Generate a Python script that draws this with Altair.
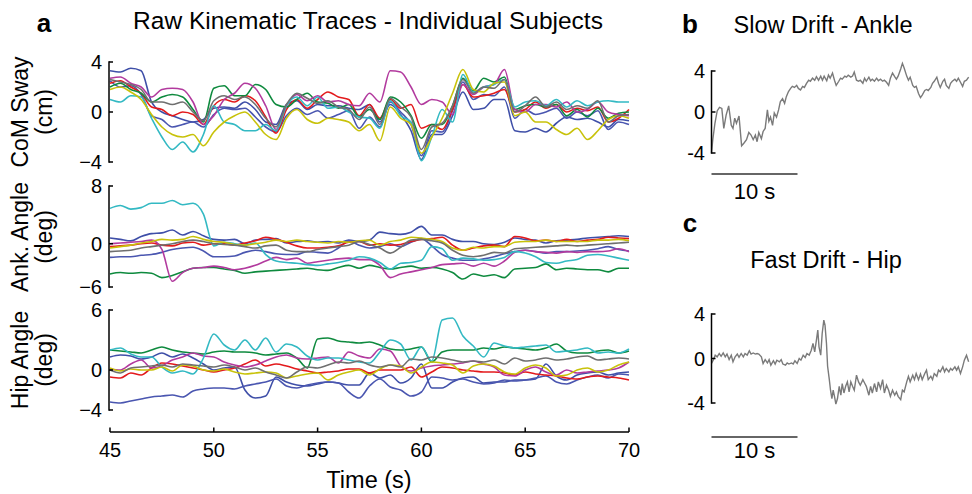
import altair as alt
import pandas as pd

FONT = "Liberation Sans"

# ---------------- data: panel a (time grid, seconds) ----------------
T = [45.0, 45.5, 46.0, 46.5, 47.0, 47.5, 48.0, 48.5, 49.0, 49.5,
     50.0, 50.5, 51.0, 51.5, 52.0, 52.5, 53.0, 53.5, 54.0, 54.5,
     55.0, 55.5, 56.0, 56.5, 57.0, 57.5, 58.0, 58.5, 59.0, 59.5,
     60.0, 60.5, 61.0, 61.5, 62.0, 62.5, 63.0, 63.5, 64.0, 64.5,
     65.0, 65.5, 66.0, 66.5, 67.0, 67.5, 68.0, 68.5, 69.0, 69.5,
     70.0]

SUBJECTS = ["blue1", "blue2", "red", "green", "magenta", "cyan", "yellow", "gray"]
COLORS = ["#3F4FA8", "#4A56B0", "#E31A1C", "#0E8A3E", "#B23A9E", "#33B9C3", "#C8C20A", "#6F6F6F"]

# CoM sway (cm)
com_blue1 = [3.3, 3.2, 3.5, 3.3, 0.8, 0.0, -0.3, -0.6, -0.8, -0.6,
             0.3, 0.4, 0.3, 0.8, 0.2, -0.8, -1.0, 0.6, 0.9, 0.2,
             0.6, 0.5, 0.5, 0.3, 0.2, 0.6, -0.8, 0.6, -0.2, -1.5,
             -3.8, -1.8, -1.8, -0.3, 1.6, 0.2, 0.3, 1.0, 1.0, -1.5,
             -1.6, -1.3, -1.6, -0.9, -0.4, -0.6, -0.5, -0.8, -1.2, -0.6,
             -0.7]
com_blue2 = [2.5, 2.0, 2.1, 1.4, -0.3, -0.6, -1.2, -1.0, -0.8, -1.2,
             -0.2, 0.3, 0.2, 0.3, -0.4, -1.2, -1.6, -0.3, 0.3, -0.2,
             0.1, -0.5, -0.2, 0.1, -1.3, -0.4, -1.2, 0.8, 0.0, -1.0,
             -3.5, -1.5, -1.6, 0.1, 2.4, 1.0, 1.4, 1.3, 2.0, -0.5,
             0.2, -0.2, 0.0, 0.3, -0.5, 0.0, -0.3, 0.1, -1.4, -0.8,
             -1.0]
com_red = [2.3, 2.5, 2.0, 1.5, 0.4, 0.2, -0.3, 0.0, -0.2, -1.0,
           0.5, 1.0, 0.8, 1.3, 0.9, -0.4, -1.7, 0.2, 1.0, 0.3,
           1.0, 1.6, 1.2, 1.0, -0.3, 0.6, -0.5, 1.0, 0.3, 0.6,
           -1.3, -1.0, -1.4, 0.2, 2.2, 1.2, 1.3, 1.5, 1.8, 0.0,
           0.2, 0.8, 0.3, 0.6, 0.0, 0.3, 0.1, 0.4, -0.8, -0.5,
           0.2]
com_green = [2.0, 2.3, 1.8, 1.5, 0.8, 1.2, 1.4, 1.2, 0.2, -0.8,
             1.9, 2.1, 1.3, 1.3, 2.2, 1.8, 0.6, 0.4, 1.0, 1.5,
             0.8, 0.7, 0.3, 0.6, -0.4, 0.2, -0.6, 1.2, 0.8, -0.3,
             -2.1, -1.0, -1.0, 0.5, 2.7, 1.7, 2.7, 2.4, 2.8, 0.2,
             0.5, 0.6, 0.4, 0.6, -0.3, 0.2, -0.4, 0.3, -0.5, -0.1,
             0.0]
com_magenta = [2.7, 2.8, 2.3, 2.0, 1.2, 1.8, 1.9, 1.8, 0.8, -1.0,
               -0.3, 1.0, 1.5, 2.3, 1.9, 0.5, -1.4, 0.5, 1.4, 0.9,
               1.3, 0.8, 0.9, 0.6, 0.5, 1.5, 0.8, 3.3, 3.2, 2.0,
               0.6, 1.0, 0.8, -0.2, 2.2, 1.4, 2.0, 2.2, 3.4, 0.2,
               0.0, 0.6, 0.6, 0.4, 0.8, 0.0, 0.2, 0.8, 0.0, -0.2,
               -0.3]
com_cyan = [1.0, 0.8, 1.3, 1.2, -0.5, -2.0, -3.0, -2.4, -3.2, -1.8,
            0.5, -0.8, -1.0, -1.5, -1.5, -1.0, -1.5, 0.5, 1.2, 0.5,
            1.2, 0.3, 0.4, 0.0, -0.4, -0.5, -1.3, 0.9, -0.3, -0.8,
            -3.9, -2.0, 0.2, -0.8, 3.0, 1.6, 2.0, 2.2, 2.6, 0.4,
            0.8, 0.9, 0.5, 1.0, 0.4, 0.9, 0.5, 0.8, 0.9, 0.8,
            0.8]
com_yellow = [1.8, 2.0, 1.6, 1.0, -0.2, -1.2, -1.8, -2.0, -1.8, -2.7,
              -1.6, -0.8, -0.3, 0.0, -0.8, -1.8, -2.2, -0.5, 0.2, -0.6,
              -0.9, -0.5, -0.6, -0.8, -1.5, -1.0, -2.3, 0.4, -0.5, -1.0,
              -3.3, -2.0, -0.5, 1.5, 3.4, 1.8, 1.6, 2.3, 2.4, -0.3,
              0.0, -0.8, -0.8, -1.4, -1.8, -1.3, -2.2, -1.5, -0.6, -0.3,
              -0.5]
com_gray = [2.6, 2.4, 2.2, 1.8, 0.8, 0.8, 0.6, 0.8, 0.0, -0.7,
            0.9, 1.3, 1.0, 1.2, 0.6, -0.5, -1.2, 0.6, 1.5, 1.1,
            0.7, 0.9, 0.4, 0.2, -0.6, 0.4, -1.0, 1.1, 0.4, -0.4,
            -3.0, -1.2, -0.9, 0.5, 2.6, 1.5, 2.0, 1.9, 2.6, 0.0,
            0.5, 1.2, 0.4, 0.8, 0.2, 0.5, 0.3, 0.9, -0.8, -0.3,
            -0.2]

# Ankle angle (deg)
ank_blue1 = [0.8, 0.6, 0.4, 1.0, 1.4, 1.5, 1.9, 1.2, 1.7, 1.1,
             0.6, 0.5, 0.6, 0.0, 0.5, 0.6, 0.7, 0.1, 0.3, 0.4,
             0.2, 0.3, 0.1, 0.5, 0.3, 0.5, 1.6, 1.4, 1.3, 1.6,
             2.4, 1.2, 1.2, 0.6, 0.3, 0.3, 0.0, -0.1, 0.2, 0.8,
             0.6, 0.5, 0.1, 0.4, 0.5, 0.6, 0.8, 0.9, 1.0, 1.1,
             1.0]
ank_blue2 = [-1.9, -1.8, -1.8, -1.6, -1.5, -1.2, -0.8, -0.6, -0.5, -1.0,
             -1.8, -1.8, -1.7, -1.2, -0.9, -1.1, -1.4, -1.5, -1.5, -1.1,
             -1.2, -1.3, -0.6, 0.4, -0.2, -0.6, -0.4, 0.0, -0.4, 0.2,
             0.7, -0.3, -1.5, -2.0, -2.3, -2.3, -2.1, -1.8, -1.4, -1.1,
             -0.9, -1.1, -1.3, -1.1, -1.1, -1.0, -0.9, -0.7, -0.4, -0.8,
             -1.0]
ank_red = [-0.4, -0.3, -0.2, 0.0, 0.1, -0.2, -0.3, 0.1, 0.2, -0.2,
           0.0, 0.0, -0.2, 0.1, 0.4, 0.9, 0.6, 0.2, -0.3, -0.6,
           -0.6, -0.5, -0.3, 0.2, 0.3, -0.2, 0.0, -0.2, -0.1, 0.3,
           0.6, 0.7, 0.9, -0.2, -0.9, -0.6, -0.3, -0.2, -0.4, 1.0,
           0.8, 0.4, 0.5, 0.3, 0.6, 0.3, 0.5, 0.6, 0.9, 0.8,
           0.7]
ank_green = [-4.2, -4.0, -4.1, -4.0, -4.1, -4.7, -4.4, -3.9, -3.4, -3.3,
             -3.3, -3.5, -3.7, -4.1, -3.9, -3.8, -3.7, -3.6, -3.5, -3.4,
             -3.6, -3.7, -3.3, -3.0, -3.4, -3.0, -3.3, -3.5, -3.3, -3.1,
             -3.4, -3.3, -3.5, -4.0, -4.9, -4.2, -4.5, -4.3, -4.7, -3.5,
             -3.4, -3.3, -2.8, -3.6, -3.4, -3.5, -3.6, -3.6, -3.9, -3.4,
             -3.4]
ank_magenta = [0.0, 0.1, 0.2, 0.3, 0.5, -0.8, -5.2, -4.0, -3.4, -3.3,
               -3.1, -3.3, -3.6, -3.4, -3.0, -2.4, -1.9, -2.2, -2.0, -2.7,
               -2.5, -2.3, -2.1, -2.0, -2.2, -2.2, -3.0, -4.7, -4.2, -3.9,
               -3.6, -3.3, -2.9, -2.8, -2.7, -3.1, -2.7, -3.1, -2.4, -1.2,
               -0.9, -1.1, -1.2, -1.3, -1.1, -1.2, -1.1, -1.1, -1.0, -0.7,
               -1.1]
ank_cyan = [4.9, 5.3, 4.8, 5.0, 5.6, 5.6, 6.0, 5.4, 5.6, 4.1,
            -0.3, 0.2, 0.0, -0.2, 0.1, -1.5, -2.4, -2.6, -2.7, -2.9,
            -3.0, -2.8, -2.6, -2.3, -1.8, -2.0, -2.6, -3.5, -2.7, -2.6,
            -2.3, -0.4, -0.7, -2.3, -2.0, -2.1, -2.3, -2.2, -1.9, -1.1,
            -1.3, -1.8, -2.6, -2.7, -2.4, -2.2, -1.6, -1.5, -1.7, -2.0,
            -2.3]
ank_yellow = [-0.6, -0.4, -0.2, 0.1, 0.3, 0.6, 0.5, 0.6, 1.0, 0.6,
              0.3, 0.2, -0.1, -0.2, 0.0, 0.2, 0.5, 0.3, 0.5, 0.3,
              0.2, 0.1, 0.3, 0.2, 0.4, 0.5, -0.2, 0.3, 0.5, 0.9,
              0.8, 0.6, 0.3, -0.6, -0.9, -0.5, -0.6, -0.4, -0.4, 0.2,
              0.3, 0.3, 0.5, 0.3, 0.3, 0.3, 0.3, 0.5, 0.5, 0.6,
              0.4]
ank_gray = [-1.1, -1.0, -0.9, -0.6, -0.4, -0.2, 0.0, 0.3, 0.5, 0.3,
            0.0, -0.1, -0.2, -0.4, -0.6, -0.3, -0.2, -0.9, -1.1, -1.1,
            -0.8, -0.6, -0.4, -0.2, 0.3, -0.1, -0.6, -1.3, -0.5, 0.5,
            0.6, 0.4, 0.1, -0.9, -1.6, -1.8, -1.6, -1.2, -1.3, -0.7,
            -0.6, -0.5, -0.4, -0.3, -0.2, -0.3, -0.2, -0.1, 0.0, 0.1,
            0.2]

# Hip angle (deg)
hip_blue1 = [1.3, 1.5, 1.4, 1.1, 1.3, 1.7, 1.3, 1.6, 1.2, 0.6,
             0.0, 0.2, 0.3, -2.0, -2.8, -2.6, -0.7, -1.2, -1.5, -1.6,
             -1.4, -1.2, -1.3, -1.5, -1.5, -0.3, -0.8, -0.5, -1.3, -0.8,
             0.6, -1.8, -1.8, -1.2, -0.8, -0.7, -1.3, -1.2, -1.2, -1.0,
             -1.0, -0.9, 0.6, -0.6, -1.0, -0.5, -0.3, -0.2, -0.5, -0.3,
             -0.2]
hip_blue2 = [-3.2, -3.3, -3.1, -2.9, -2.7, -2.6, -2.5, -2.7, -2.1, -1.9,
             -1.8, -1.8, -1.9, -1.6, -1.4, -1.2, -0.9, -1.6, -1.8, -1.5,
             -1.3, -1.2, -1.3, -2.2, -2.8, -1.6, -0.9, -1.7, -2.0, -2.6,
             -2.2, -0.7, -0.8, -1.0, -0.9, -1.2, -1.4, -1.3, -1.0, -1.1,
             -1.0, -0.8, -0.6, -1.2, -1.4, -1.0, -0.7, -0.5, -0.8, -0.4,
             -0.5]
hip_red = [-0.7, -0.8, -0.3, -0.5, 0.2, 0.7, 0.6, 0.4, 0.2, 0.0,
           -0.2, 0.0, 0.2, 0.6, 1.0, 0.4, 0.6, 0.4, 0.1, -0.1,
           -0.3, -0.2, -0.1, 0.1, 0.1, -0.3, 0.0, 0.0, 0.0, 0.3,
           -0.7, -0.2, 0.3, 0.2, 0.0, -0.1, -0.2, -0.2, -0.3, -0.5,
           -0.2, -0.4, -0.5, -0.6, -0.8, -0.9, -0.7, -0.6, -0.7, -0.8,
           -1.0]
hip_green = [2.0, 1.9, 1.8, 1.7, 2.0, 2.3, 2.0, 1.8, 1.7, 1.6,
             1.8, 1.9, 1.8, 1.8, 1.7, 1.5, 1.6, 1.7, 1.2, 0.2,
             3.1, 3.2, 2.9, 2.8, 2.7, 2.8, 2.5, 2.1, 2.0, 2.1,
             2.3, 0.8, 1.8, 2.0, 2.0, 2.0, 2.2, 2.1, 2.3, 2.2,
             2.1, 2.0, 2.2, 2.6, 1.9, 1.7, 1.7, 1.9, 2.0, 1.7,
             1.9]
hip_magenta = [0.1, 0.0, 0.6, 1.0, 0.2, 0.4, 1.0, 1.3, 1.7, 1.4,
               1.3, 0.8, 0.5, 0.3, 0.5, 0.9, 1.3, 1.5, 1.2, 1.1,
               1.2, 1.3, 0.7, 1.8, 1.4, 1.2, 2.1, 1.9, 0.4, -0.1,
               0.2, 0.4, 0.5, 0.6, 0.7, 0.9, 0.6, 0.3, -0.5, -0.6,
               0.0, 0.3, -0.2, -0.5, 0.0, -0.3, -0.2, -0.1, 0.0, 0.2,
               0.8]
hip_cyan = [2.0, 2.2, 1.6, 1.3, 1.3, 0.3, -0.3, -0.1, -0.4, 1.2,
            3.6, 2.5, 2.0, 3.0, 2.0, 3.2, 1.8, 2.6, 2.3, 1.4,
            1.0, 1.2, 1.2, 1.0, 0.8, 0.7, 1.8, 3.0, 2.6, 1.0,
            2.3, 0.9, 5.0, 5.2, 3.4, 2.4, 1.3, 2.7, 2.4, 2.2,
            2.3, 2.4, 2.5, 1.8, 1.9, 2.0, 2.2, 1.7, 1.8, 1.7,
            2.1]
hip_yellow = [0.2, -0.1, 0.1, 0.0, 0.0, 0.3, -0.1, 0.5, 0.4, 0.0,
              -0.1, 0.1, -0.2, -0.4, -0.3, -0.2, -0.3, -0.8, -0.6, -0.4,
              -0.3, -1.0, -0.5, -0.2, 0.0, -0.5, 0.1, 0.5, 0.4, -0.3,
              0.3, 0.8, 0.7, 0.5, -0.3, 0.4, 0.6, 0.4, -0.2, -0.4,
              0.2, 0.5, 0.2, -0.6, -0.5, 0.0, 0.2, -0.2, 0.0, 0.5,
              0.8]
hip_gray = [0.0, -0.3, 0.2, 0.3, 0.4, 0.5, 0.3, 0.6, 0.5, 0.4,
            0.3, 0.5, 0.3, 0.0, 0.2, -0.2, -0.5, -0.8, -0.2, 0.3,
            0.2, 0.5, 0.8, 0.7, 0.9, 0.5, 0.3, 0.5, 0.3, 1.1,
            1.0, 1.3, 1.2, 1.0, 0.8, 0.9, 0.8, 1.0, 0.6, 1.2,
            0.9, 1.0, 1.2, 1.0, 1.1, 1.3, 1.4, 1.0, 1.1, 1.2,
            1.1]

# ---------------- data: panel b (slow drift, ankle) ----------------
TB = [0, 0.15, 0.4, 0.66, 0.93, 1.2, 1.43, 1.7, 2.0, 2.3,
      2.5, 2.7, 2.9, 3.2, 3.5, 3.76, 4.07, 4.34, 4.6, 4.85,
      5.1, 5.3, 5.5, 5.8, 6.0, 6.24, 6.5, 6.67, 6.86, 7.1,
      7.3, 7.56, 7.8, 8.0, 8.26, 8.5, 8.7, 8.95, 9.2, 9.4,
      9.65, 9.9, 10.1, 10.35, 10.6, 10.8, 11.05, 11.3, 11.5, 11.75,
      12.0, 12.2, 12.45, 12.7, 12.9, 13.1, 13.4, 13.6, 13.8, 14.07,
      14.3, 14.5, 14.8, 15.0, 15.2, 15.5, 15.7, 15.9, 16.2, 16.4,
      16.6, 16.86, 17.1, 17.3, 17.6, 17.8, 18.0, 18.3, 18.5, 18.7,
      18.95, 19.2, 19.4, 19.65, 19.9, 20.1, 20.35, 20.6, 20.8, 21.05,
      21.3, 21.5, 21.7, 22.0, 22.2, 22.4, 22.7, 22.9, 23.1, 23.4,
      23.6, 23.8, 24.07, 24.3, 24.5, 24.8, 25.0, 25.2, 25.5, 25.7,
      25.9, 26.2, 26.4, 26.6, 26.9, 27.1, 27.3, 27.6, 27.8, 28.0,
      28.3, 28.5, 28.7, 28.95, 29.2, 29.4, 29.65, 29.9]
VB = [-4.0, -2.7, -1.1, 0.1, 0.45, 0.35, -1.6, -0.3, 0.6, -1.3,
      -1.6, -0.6, -1.1, -0.4, -3.3, -3.05, -2.7, -2.0, -2.25, -2.7,
      -2.25, -2.9, -2.0, -2.6, -1.9, -1.6, 0.2, -0.9, -0.5, -1.3,
      -0.1, -0.5, 0.2, 1.0, 1.3, 0.85, 1.5, 2.0, 2.3, 2.5,
      2.4, 2.6, 2.3, 2.15, 2.5, 2.4, 2.8, 3.1, 3.0, 3.3,
      3.1, 3.45, 3.1, 3.5, 3.1, 3.5, 3.05, 3.6, 3.3, 3.8,
      3.1, 2.6, 3.0, 3.3, 3.2, 3.5, 3.4, 3.6, 3.4, 3.5,
      3.9, 3.1, 3.0, 3.1, 2.8, 3.3, 3.0, 3.4, 3.05, 3.2,
      3.0, 3.3, 3.05, 3.2, 3.0, 3.1, 2.9, 2.6, 3.3, 3.8,
      3.45, 3.2, 3.5, 4.2, 4.75, 4.3, 3.5, 3.1, 3.4, 2.6,
      2.4, 2.5, 1.8, 1.4, 1.65, 2.1, 2.2, 2.1, 2.4, 2.8,
      3.0, 3.4, 2.8, 2.4, 3.0, 3.2, 2.6, 2.3, 2.8, 3.0,
      3.2, 3.0, 3.3, 2.9, 2.5, 3.0, 3.1, 3.4]

# ---------------- data: panel c (fast drift, hip) ----------------
TC = [0, 0.2, 0.43, 0.66, 0.9, 1.12, 1.36, 1.6, 1.8, 2.05,
      2.3, 2.5, 2.75, 3.0, 3.2, 3.45, 3.7, 3.9, 4.15, 4.4,
      4.6, 4.85, 5.1, 5.3, 5.5, 5.8, 6.0, 6.24, 6.5, 6.7,
      6.9, 7.2, 7.4, 7.6, 7.9, 8.1, 8.3, 8.6, 8.8, 9.0,
      9.3, 9.5, 9.7, 9.96, 10.2, 10.4, 10.66, 10.9, 11.1, 11.36,
      11.6, 11.8, 12.0, 12.2, 12.36, 12.5, 12.7, 12.87, 13.06, 13.2,
      13.37, 13.5, 13.7, 13.84, 14.0, 14.15, 14.3, 14.46, 14.65, 14.85,
      15.04, 15.2, 15.4, 15.6, 15.8, 16.0, 16.2, 16.4, 16.6, 16.86,
      17.1, 17.3, 17.6, 17.8, 18.0, 18.3, 18.5, 18.7, 18.95, 19.2,
      19.4, 19.65, 19.9, 20.1, 20.35, 20.6, 20.8, 21.05, 21.3, 21.5,
      21.7, 22.0, 22.2, 22.4, 22.7, 22.9, 23.1, 23.4, 23.6, 23.8,
      24.07, 24.3, 24.5, 24.8, 25.0, 25.2, 25.5, 25.7, 25.9, 26.2,
      26.4, 26.6, 26.9, 27.1, 27.3, 27.6, 27.8, 28.0, 28.3, 28.5,
      28.7, 28.95, 29.2, 29.4, 29.65, 29.9]
VC = [-0.45, -0.15, 0.3, 0.15, 0.45, 0.2, 0.5, 0.15, 0.4, -0.1,
      0.3, -0.3, 0.15, 0.4, 0.1, 0.45, 0.15, 0.45, 0.3, 0.7,
      0.4, 0.5, 0.4, 0.45, 0.4, 0.15, -0.45, -0.1, -0.4, -0.1,
      -0.6, -0.2, -0.5, -0.15, -0.3, -0.1, -0.5, -0.6, -0.4, -0.5,
      -0.4, -0.5, -0.2, -0.45, 0.0, -0.15, 0.3, 0.1, 0.45, 0.3,
      0.75, 1.35, 0.6, 1.65, 2.55, 1.05, 0.3, 2.25, 3.45, 3.0,
      1.35, -0.7, -1.9, -2.85, -3.6, -2.85, -3.4, -4.1, -3.6, -2.5,
      -3.3, -2.25, -3.1, -2.5, -2.1, -3.0, -2.1, -2.5, -2.85, -1.5,
      -2.1, -2.4, -1.9, -2.2, -2.5, -3.3, -2.5, -3.1, -2.25, -3.0,
      -2.1, -2.7, -1.9, -3.1, -2.4, -2.85, -3.4, -2.85, -3.3, -3.0,
      -3.4, -3.7, -2.85, -3.0, -2.1, -1.6, -2.1, -1.5, -1.9, -1.35,
      -1.9, -1.4, -1.9, -1.35, -1.05, -1.9, -1.6, -1.9, -1.35, -1.6,
      -1.05, -1.2, -0.75, -1.2, -0.9, -1.2, -0.9, -1.05, -0.75, -1.05,
      -0.75, -1.35, -0.75, -0.15, 0.3, -0.3]

# axis tick values / labels
A_XTICKS = [45, 50, 55, 60, 65, 70]
COM_TICKS, COM_LABELS = [4, 0, -4], ["4", "0", "\u22124"]
ANK_TICKS, ANK_LABELS = [8, 0, -6], ["8", "0", "\u22126"]
HIP_TICKS, HIP_LABELS = [6, 0, -4], ["6", "0", "\u22124"]
BC_TICKS, BC_LABELS = [4, 0, -4], ["4", "0", "-4"]


def long_df(series):
    rows = []
    for name, vals in series.items():
        assert len(vals) == len(T), name
        for t, v in zip(T, vals):
            rows.append({"subj": name, "t": t, "v": v})
    return pd.DataFrame(rows)


com_df = long_df(dict(zip(SUBJECTS, [com_blue1, com_blue2, com_red, com_green,
                                     com_magenta, com_cyan, com_yellow, com_gray])))
ank_df = long_df(dict(zip(SUBJECTS, [ank_blue1, ank_blue2, ank_red, ank_green,
                                     ank_magenta, ank_cyan, ank_yellow, ank_gray])))
hip_df = long_df(dict(zip(SUBJECTS, [hip_blue1, hip_blue2, hip_red, hip_green,
                                     hip_magenta, hip_cyan, hip_yellow, hip_gray])))
b_df = pd.DataFrame({"t": TB, "v": VB})
c_df = pd.DataFrame({"t": TC, "v": VC})

# ---------------- scales (explicit pixel ranges on one canvas) ----------------
def sc(domain, rng):
    return alt.Scale(domain=domain, range=rng, nice=False, zero=False)

XA = sc([45, 70], [110, 629])
Y_COM = sc([-4, 4], [162, 62])
Y_ANK = sc([-6, 8], [287, 186])
Y_HIP = sc([-4, 6], [410, 310])
XB = sc([0, 30], [711.5, 969.5])
Y_B = sc([-4, 4], [153, 71])
Y_C = sc([-4, 4], [403, 314])

color_enc = alt.Color("subj:N", scale=alt.Scale(domain=SUBJECTS, range=COLORS), legend=None)

layers = []


def traces(df, yscale):
    return alt.Chart(df).mark_line(strokeWidth=1.6, interpolate="monotone").encode(
        x=alt.X("t:Q", scale=XA, axis=None),
        y=alt.Y("v:Q", scale=yscale, axis=None),
        color=color_enc,
        detail="subj:N",
    )


def single_trace(df, xscale, yscale):
    return alt.Chart(df).mark_line(strokeWidth=1.4, color="#7A7A7A").encode(
        x=alt.X("t:Q", scale=xscale, axis=None),
        y=alt.Y("v:Q", scale=yscale, axis=None),
    )


def y_axis(yscale, ticks, labels, x_line, label_x, size):
    lo, hi = min(ticks), max(ticks)
    dom = alt.Chart(pd.DataFrame({"lo": [lo], "hi": [hi]})).mark_rule(
        color="black", strokeWidth=1.5, strokeCap="square").encode(
        x=alt.value(x_line),
        y=alt.Y("lo:Q", scale=yscale, axis=None), y2="hi:Q")
    tk = alt.Chart(pd.DataFrame({"v": ticks})).mark_rule(
        color="black", strokeWidth=1.5).encode(
        y=alt.Y("v:Q", scale=yscale, axis=None),
        x=alt.value(x_line), x2=alt.value(x_line + 4))
    lb = alt.Chart(pd.DataFrame({"v": ticks, "lab": labels})).mark_text(
        align="right", baseline="middle", fontSize=size, font=FONT, color="black", dy=1).encode(
        y=alt.Y("v:Q", scale=yscale, axis=None),
        x=alt.value(label_x), text="lab:N")
    return [dom, tk, lb]


def text(s, x, y, size, bold=False, angle=None, baseline="alphabetic", align="center"):
    kw = dict(fontSize=size, font=FONT, align=align, baseline=baseline, color="black")
    if bold:
        kw["fontWeight"] = "bold"
    if angle is not None:
        kw["angle"] = angle
    return alt.Chart(pd.DataFrame({"s": [s]})).mark_text(**kw).encode(
        text="s:N", x=alt.value(x), y=alt.value(y))


# panel a traces
layers += [traces(com_df, Y_COM), traces(ank_df, Y_ANK), traces(hip_df, Y_HIP)]
# panel b, c traces
layers += [single_trace(b_df, XB, Y_B), single_trace(c_df, XB, Y_C)]

# panel a y axes
layers += y_axis(Y_COM, COM_TICKS, COM_LABELS, 109, 102, 20)
layers += y_axis(Y_ANK, ANK_TICKS, ANK_LABELS, 109, 102, 20)
layers += y_axis(Y_HIP, HIP_TICKS, HIP_LABELS, 109, 102, 20)

# panel a x axis (detached, ticks pointing up)
layers.append(alt.Chart(pd.DataFrame({"lo": [45], "hi": [70]})).mark_rule(
    color="black", strokeWidth=1.5).encode(
    x=alt.X("lo:Q", scale=XA, axis=None), x2="hi:Q", y=alt.value(432)))
layers.append(alt.Chart(pd.DataFrame({"t": A_XTICKS})).mark_rule(
    color="black", strokeWidth=1.5).encode(
    x=alt.X("t:Q", scale=XA, axis=None), y=alt.value(427.5), y2=alt.value(432)))
layers.append(alt.Chart(pd.DataFrame({"t": A_XTICKS, "lab": [str(v) for v in A_XTICKS]})).mark_text(
    fontSize=20, font=FONT, baseline="middle", align="center", color="black").encode(
    x=alt.X("t:Q", scale=XA, axis=None), y=alt.value(451), text="lab:N"))

# panels b, c y axes
layers += y_axis(Y_B, BC_TICKS, BC_LABELS, 711.5, 705, 20)
layers += y_axis(Y_C, BC_TICKS, BC_LABELS, 711.5, 705, 20)

# scale bars (10 s) for b and c
for ybar, ylab in [(174, 192), (437, 451)]:
    layers.append(alt.Chart(pd.DataFrame({"a": [0], "b": [10]})).mark_rule(
        color="#333333", strokeWidth=1.5).encode(
        x=alt.X("a:Q", scale=XB, axis=None), x2="b:Q", y=alt.value(ybar)))
    layers.append(alt.Chart(pd.DataFrame({"m": [5], "s": ["10 s"]})).mark_text(
        fontSize=22, font=FONT, baseline="middle", align="center", color="black").encode(
        x=alt.X("m:Q", scale=XB, axis=None), y=alt.value(ylab), text="s:N"))

# titles and labels
layers += [
    text("a", 44, 32, 26, bold=True),
    text("Raw Kinematic Traces - Individual Subjects", 368, 29, 24.5),
    text("b", 690, 33, 26, bold=True),
    text("Slow Drift - Ankle", 823, 33, 23.5),
    text("c", 690, 232, 26, bold=True),
    text("Fast Drift - Hip", 826, 268, 23.5),
    text("Time (s)", 369, 481, 23.5, baseline="middle"),
    text("CoM Sway", 21, 112, 23, angle=270, baseline="middle"),
    text("(cm)", 45, 112, 23, angle=270, baseline="middle"),
    text("Ank. Angle", 21, 237, 23, angle=270, baseline="middle"),
    text("(deg)", 45, 237, 23, angle=270, baseline="middle"),
    text("Hip Angle", 21, 360, 23, angle=270, baseline="middle"),
    text("(deg)", 45, 360, 23, angle=270, baseline="middle"),
]

chart = alt.layer(*layers).resolve_scale(
    x="independent", y="independent"
).properties(
    width=972, height=494, padding=0,
    autosize=alt.AutoSizeParams(type="none"),
    background="white",
).configure_view(strokeWidth=0)

chart.save("out.html", embed_options={"renderer": "svg", "actions": False})
